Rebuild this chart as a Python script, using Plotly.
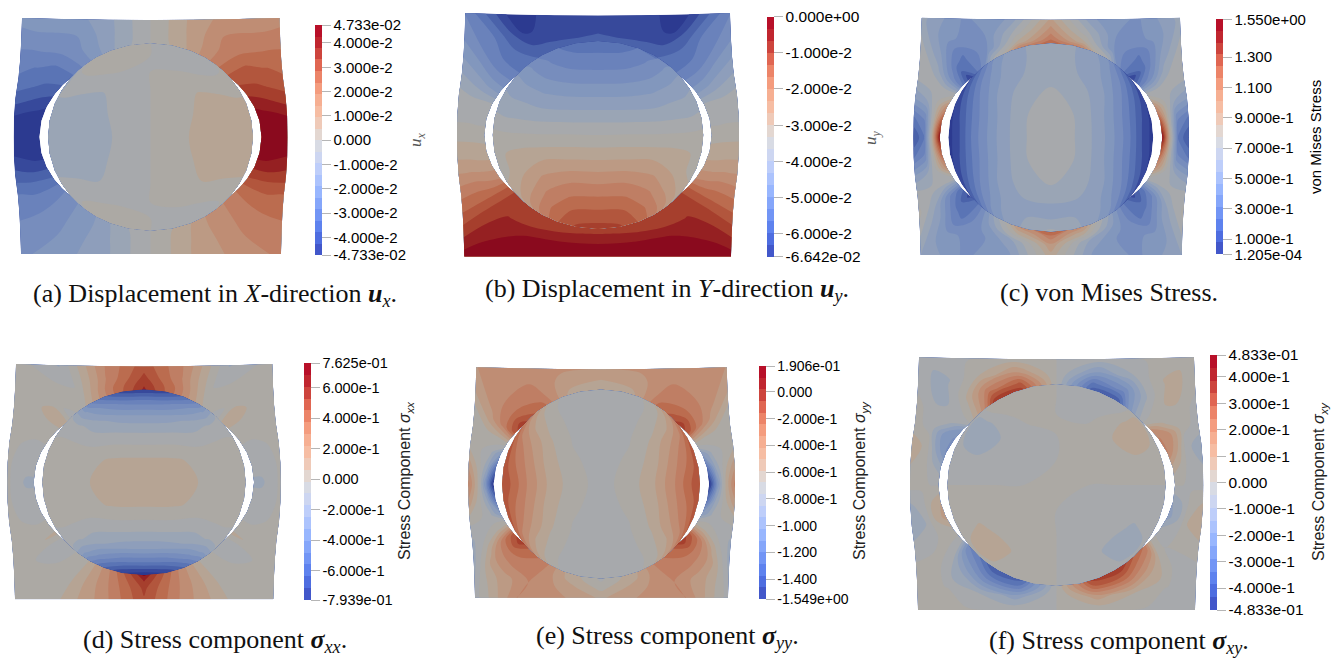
import plotly.graph_objects as go
import numpy as np

FIG_W, FIG_H = 1335, 658
COOLWARM = [(59,76,192),(85,120,234),(123,159,249),(162,189,255),(200,212,248),(221,221,221),
            (245,196,172),(247,168,137),(233,120,93),(196,50,50),(180,4,38)]
# Colours of the twenty shaded bands as they appear on the lit surfaces, lowest band first.
LIT_BANDS = ['#2c3a90','#4056a3','#5069ae','#5f79b8','#6e85bc','#7a90bd','#8498bd','#8f9fbb','#9ba5b4','#a7a9ac',
             '#aca9a4','#b5a595','#bc9c86','#bf9076','#c08269','#bd7254','#b65e42','#ab4832','#9e3226','#8a0a1e']

# Right-half field samples.
# *_PLATE: one row per ray (top centre, clockwise, to bottom centre); columns run inner edge -> outer edge.
# *_INCL: rows top -> bottom over INCL_V, columns centre -> edge over INCL_U.
UX_PLATE = [
 [0,0,0,0],[.7,.9,1.0,1.1],[1.8,1.8,1.9,1.8],[2.6,2.4,2.0,1.7],
 [3.0,2.9,2.5,2.2],[3.3,3.1,2.9,2.6],[3.7,3.5,3.2,2.9],[4.2,4.0,3.8,3.5],[4.7,4.6,4.5,4.3],
 [4.73,4.7,4.65,4.55],[4.6,4.55,4.4,4.25],[3.9,3.9,3.8,3.6],[3.2,3.1,3.0,2.8],[2.5,2.6,2.6,2.5],
 [2.2,2.3,2.3,2.2],[1.9,2.0,2.1,2.0],[1.5,1.6,1.6,1.6],[.6,.8,.9,1.0],[0,0,0,0]]
UX_INCL = [
 [0,-.2,-.2,-.1,.05,.2],[0,-.2,-.2,-.1,.05,.25],[0,.03,.03,.08,.2,.4],[0,.35,.52,.55,.55,.55],
 [0,.4,.55,.62,.62,.58],[0,.42,.6,.65,.65,.6],[0,.4,.55,.6,.6,.58],[0,.3,.5,.52,.55,.55],
 [0,.1,.1,.15,.3,.4],[0,-.15,-.15,-.1,.05,.2],[0,-.2,-.2,-.1,0,.15]]
UY_PLATE = [
 [-5.75,-5.95,-6.05,-6.2],[-5.7,-6.0,-6.2,-6.25],[-5.6,-5.95,-6.35,-6.4],[-5.5,-5.5,-5.2,-5.0],
 [-5.2,-5.2,-5.0,-4.7],[-4.9,-4.85,-4.6,-4.35],[-4.5,-4.35,-4.15,-3.95],[-3.6,-3.6,-3.6,-3.5],[-3.5,-3.5,-3.45,-3.45],
 [-3.1,-3.1,-3.1,-3.1],[-2.9,-2.85,-2.8,-2.75],[-2.5,-2.45,-2.35,-2.3],[-2.0,-1.9,-1.75,-1.75],[-1.3,-1.3,-1.3,-1.3],
 [-.9,-.85,-.8,-.8],[-.8,-.65,-.45,-.15],[-.95,-.75,-.25,-.05],[-.9,-.7,-.3,-.05],[-.85,-.65,-.33,-.1]]
UY_INCL = [
 [-5.6,-5.55,-5.3,-5.1,-4.8,-4.6],[-5.3,-5.25,-5.05,-4.75,-4.45,-4.25],[-5.0,-4.95,-4.75,-4.45,-4.15,-4.0],
 [-4.55,-4.5,-4.35,-4.1,-3.95,-3.8],[-3.95,-3.93,-3.87,-3.75,-3.65,-3.55],[-3.32,-3.3,-3.3,-3.28,-3.25,-3.2],
 [-2.7,-2.7,-2.75,-2.85,-3.0,-3.1],[-2.05,-2.05,-2.25,-2.65,-3.0,-3.1],[-1.55,-1.6,-1.9,-2.4,-2.8,-3.0],
 [-1.15,-1.2,-1.6,-2.1,-2.6,-2.9],[-.85,-.95,-1.35,-1.9,-2.45,-2.8]]
VM_PLATE = [
 [1.3,1.15,1.05,.95],[1.2,.85,.7,.55],[.8,.45,.4,.45],[.35,.3,.5,.65],
 [.08,.32,.55,.72],[.3,.45,.65,.78],[.75,.72,.75,.72],[1.05,.8,.62,.55],[1.3,.8,.4,.3],
 [1.5,.85,.3,.15],[1.25,.8,.4,.3],[1.05,.78,.62,.55],[.7,.7,.72,.75],[.25,.4,.62,.8],
 [.12,.32,.55,.72],[.3,.3,.5,.62],[.65,.5,.42,.45],[1.1,.85,.6,.52],[1.35,1.15,1.0,.9]]
VM_INCL = [
 [.64,.63,.58,.5,.35,.22],[.63,.62,.58,.45,.28,.15],[.64,.62,.55,.42,.24,.1],[.71,.66,.55,.38,.2,.07],
 [.75,.68,.53,.35,.16,.05],[.76,.68,.53,.35,.14,.04],[.75,.68,.53,.35,.16,.05],[.7,.66,.55,.38,.2,.07],
 [.62,.61,.55,.42,.24,.1],[.62,.62,.58,.46,.28,.15],[.72,.66,.58,.5,.35,.22]]
SXX_PLATE = [
 [.65,.6,.55,.5],[.35,.35,.3,.28],[.1,.02,-.04,-.1],[-.08,.03,.02,.03],
 [.12,.1,.03,.03],[.03,.03,.03,.03],[0,0,.02,.03],[-.04,-.05,-.03,.03],[-.08,-.08,-.06,.01],
 [-.1,-.1,-.08,.01],[-.08,-.08,-.06,.01],[-.04,-.05,-.03,.03],[0,0,.02,.03],[.08,.06,.03,.03],
 [-.06,-.06,-.01,.03],[-.04,-.02,.03,.03],[.03,.05,.06,.05],[.33,.3,.28,.25],[.76,.62,.55,.52]]
SXX_INCL = [
 [-.72,-.68,-.55,-.4,-.2,-.05],[-.45,-.42,-.33,-.22,-.08,-.02],[-.22,-.2,-.15,-.07,-.03,-.02],
 [-.07,-.06,-.05,-.01,.01,.02],[.07,.07,.05,.03,.03,.02],[.1,.09,.06,.04,.03,.03],[.07,.07,.05,.03,.03,.02],
 [-.07,-.06,-.05,-.01,.01,.02],[-.22,-.2,-.15,-.07,-.03,-.02],[-.5,-.47,-.36,-.22,-.08,-.02],[-.79,-.72,-.58,-.4,-.2,-.05]]
SYY_PLATE = [
 [-.6,-.55,-.5,-.42],[-.55,-.5,-.45,-.4],[-.2,-.28,-.33,-.37],[-.1,-.3,-.38,-.42],
 [0,-.28,-.38,-.5],[-.1,-.3,-.45,-.62],[-.55,-.6,-.62,-.66],[-.95,-.75,-.68,-.62],[-1.25,-.85,-.65,-.45],
 [-1.53,-1.05,-.62,-.3],[-1.25,-.85,-.65,-.45],[-.95,-.75,-.68,-.65],[-.55,-.62,-.68,-.78],[-.1,-.3,-.55,-.8],
 [0,-.28,-.45,-.78],[-.15,-.3,-.5,-.72],[-.25,-.3,-.33,-.33],[-.55,-.52,-.45,-.4],[-.72,-.68,-.62,-.52]]
SYY_INCL = [
 [-.75,-.74,-.7,-.6,-.45,-.3],[-.75,-.74,-.68,-.58,-.42,-.22],[-.75,-.72,-.64,-.52,-.35,-.15],
 [-.74,-.69,-.58,-.42,-.27,-.1],[-.72,-.66,-.54,-.36,-.22,-.1],[-.71,-.64,-.5,-.33,-.17,-.08],[-.72,-.66,-.54,-.36,-.22,-.1],
 [-.74,-.69,-.58,-.42,-.27,-.1],[-.75,-.72,-.64,-.52,-.35,-.15],[-.75,-.74,-.68,-.58,-.42,-.22],[-.75,-.74,-.7,-.6,-.45,-.3]]
SXY_PLATE = [
 [0,0,0,0],[-.38,-.3,-.15,-.02],[-.42,-.22,-.05,.01],[-.12,-.02,.07,.02],
 [-.02,.03,.07,.01],[.15,.02,.02,-.01],[.2,.15,.02,-.02],[.2,.1,-.04,-.07],[.08,.03,-.03,-.05],
 [0,0,-.01,-.02],[-.1,-.05,.02,.06],[-.12,-.05,.05,.07],[-.03,-.02,.04,.04],[.03,0,-.01,-.01],
 [.25,.05,-.01,-.02],[.3,.1,-.01,-.02],[.43,.25,.05,-.01],[.38,.28,.12,.01],[0,0,0,0]]
SXY_INCL = [
 [0,-.02,-.02,-.02,-.02,.01],[0,-.02,-.02,-.01,.05,.03],[0,-.01,.01,.07,.07,.03],[0,.015,.05,.075,.05,.03],
 [0,.02,.025,.03,.02,.02],[0,0,0,0,0,0],[0,-.015,-.02,-.025,-.015,-.01],[0,-.015,-.04,-.055,-.03,-.01],
 [0,-.02,-.06,-.07,-.05,-.02],[0,-.02,-.03,-.055,-.05,-.03],[0,-.02,-.02,-.02,0,0]]

RAY_TOP = [0,.33,.67]
RAY_SIDE = [.8,.65,.5,.33,.17,0,-.17,-.33,-.5,-.65,-.8]
RAY_BOT = [.67,.33,0]
SIDE_BULGE = {.8:.1,.65:.22,.5:.42,.33:.78,.17:.96,0:1}
TOP_SAG = {0:1,.33:.85,.67:.5}
RAD = [0,.3,.6,1]
INCL_U = [0,.3,.55,.75,.9,1]
INCL_V = [1,.87,.7,.5,.25,0,-.25,-.5,-.7,-.87,-1]

def bar_scale(n):
    c=np.array(COOLWARM,float)
    out=[]
    for k in range(n):
        t=(k+.5)/n*10; i=min(int(t),9); m=c[i]*(1-(t-i))+c[i+1]*(t-i)
        col=f"rgb({m[0]:.0f},{m[1]:.0f},{m[2]:.0f})"
        out+= [[k/n,col],[(k+1)/n,col]]
    return out
def lit_scale():
    n=len(LIT_BANDS)
    return [[0,LIT_BANDS[0]]]+[[(k+.5)/n,c] for k,c in enumerate(LIT_BANDS)]+[[1,LIT_BANDS[-1]]]

fig=go.Figure()
def note(x,y,text,h=44,**font):
    angle=font.pop('angle',0)
    fig.add_annotation(x=x/FIG_W,y=1-y/FIG_H,xref='paper',yref='paper',xanchor='center',yanchor='middle',showarrow=False,
                       text=text,textangle=angle,height=h,font=font)

def panel(i,P):
    ax=dict(visible=False,fixedrange=True)
    cx,cy=P['c']
    Wx,Hy=min(cx,150),130
    fig.layout[f'xaxis{i}']=dict(ax,domain=[(cx-Wx)/FIG_W,(cx+Wx)/FIG_W],range=[-Wx,Wx],anchor=f'y{i}')
    fig.layout[f'yaxis{i}']=dict(ax,domain=[1-(cy+Hy)/FIG_H,1-(cy-Hy)/FIG_H],range=[-Hy,Hy],anchor=f'x{i}')
    xa,ya=f'x{i}',f'y{i}'
    def outer(side,kind,f):
        top,bot=cy-P['top'],P['bot']-cy
        xt,xb,xm=[abs(v-cx) for v in P['R' if side>0 else 'L']]
        if kind=='t':
            return side*f*xt,top-(P['sag'])*TOP_SAG[f]
        if kind=='b':
            return side*f*xb,-bot
        if kind=='c+': return side*xt,top
        if kind=='c-': return side*xb,-bot
        xc=xt if f>=0 else xb
        return side*(xc+(xm-xc)*SIDE_BULGE[abs(f)]),f*(top if f>=0 else bot)
    seq=[('t',f) for f in RAY_TOP]+[('c+',1)]+[('s',f) for f in RAY_SIDE]+[('c-',1)]+[('b',f) for f in RAY_BOT]
    a,b=P['ab']
    def ray(side,item):
        ox,oy=outer(side,*item)
        n=np.hypot(ox,oy); dx,dy=ox/n,oy/n
        hx=P['hR'] if side>0 else P['hL']
        re=1/np.sqrt((dx/a)**2+(dy/b)**2)
        rh=1/np.sqrt((dx/hx)**2+(dy/P['hy'])**2)
        ri=max(rh,.96*re)
        return [(dx*ri+t*(ox-dx*ri),dy*ri+t*(oy-dy*ri)) for t in RAD]
    rows=[ray(1,s) for s in seq]+[ray(-1,s) for s in seq[::-1][1:]]
    X=np.array([[p[0] for p in r] for r in rows]).T
    Y=np.array([[p[1] for p in r] for r in rows]).T
    zr=np.array(P['plate'],float); sg=P['sign']
    Z=np.vstack([zr,sg*zr[::-1][1:]]).T
    aa=list(range(X.shape[1])); bb=list(range(X.shape[0]))
    hide=dict(showgrid=False,showline=False,showticklabels='none',startline=False,endline=False,minorgridcount=0,tickmode='array',tickvals=[],smoothing=0)
    lo,hi=P['range']; size=(hi-lo)/20
    cont=dict(start=lo+size,end=hi-size,size=size,coloring='fill',showlines=False)
    fig.add_trace(go.Carpet(a=aa,b=bb,x=X.tolist(),y=Y.tolist(),carpet=f'p{i}',xaxis=xa,yaxis=ya,aaxis=hide,baxis=hide))
    fig.add_trace(go.Contourcarpet(a=aa,b=bb,z=Z.tolist(),carpet=f'p{i}',contours=cont,autocontour=False,colorscale=lit_scale(),zmin=lo,zmax=hi,showscale=False,line=dict(width=0),xaxis=xa,yaxis=ya))
    ur=np.array(INCL_U); vv=np.array(INCL_V)
    us=np.concatenate([-ur[::-1][:-1],ur])
    U,V=np.meshgrid(us,vv)
    IX=a*U*np.sqrt(1-V**2/2); IY=b*V*np.sqrt(1-U**2/2)
    zi=np.array(P['incl'],float)
    ZI=np.hstack([sg*zi[:,:0:-1],zi])
    aa=list(range(IX.shape[1])); bb=list(range(IX.shape[0]))
    fig.add_trace(go.Carpet(a=aa,b=bb,x=IX.tolist(),y=IY.tolist(),carpet=f'i{i}',xaxis=xa,yaxis=ya,aaxis=hide,baxis=hide))
    fig.add_trace(go.Contourcarpet(a=aa,b=bb,z=ZI.tolist(),carpet=f'i{i}',contours=cont,autocontour=False,colorscale=lit_scale(),zmin=lo,zmax=hi,showscale=False,line=dict(width=0),xaxis=xa,yaxis=ya))
    bx,bt,bbm=P['bar']
    fig.add_trace(go.Scatter(x=[0,0],y=[0,0],xaxis=xa,yaxis=ya,mode='markers',showlegend=False,hoverinfo='skip',
        marker=dict(size=1,opacity=0,color=[lo,hi],cmin=lo,cmax=hi,colorscale=bar_scale(20),showscale=True,
          colorbar=dict(x=bx/FIG_W,xanchor='left',xpad=0,ypad=0,y=1-(bt+bbm)/2/FIG_H,yanchor='middle',len=(bbm-bt)/FIG_H,lenmode='fraction',
            thickness=7,thicknessmode='pixels',outlinewidth=0,ticks='outside',ticklen=9,tickcolor='#b5b5b5',tickwidth=1,
            tickmode='array',tickvals=P['tv'],ticktext=P['tt'],tickfont=dict(family='Liberation Sans',size=P['fs'],color='#000')))))

panel(1,dict(c=(150.5,137),ab=(102.5,93.7),hR=111,hL=111,hy=85,top=18,bot=254,sag=2,fs=15,
  R=(279.5,281,287.5),L=(22,21,13.5),plate=UX_PLATE,incl=UX_INCL,sign=-1,range=(-4.733,4.733),bar=(315,25.3,255),
  tv=[4.733,4,3,2,1,0,-1,-2,-3,-4,-4.733],
  tt=['4.733e-02','4.000e-2','3.000e-2','2.000e-2','1.000e-2','0.000','-1.000e-2','-2.000e-2','-3.000e-2','-4.000e-2','-4.733e-02']))
panel(2,dict(c=(598,135),ab=(105.3,94),hR=113.7,hL=113.7,hy=85,top=13,bot=256.5,sag=2.5,fs=15.5,
  R=(730,731,739),L=(465.3,464.3,457),plate=UY_PLATE,incl=UY_INCL,sign=1,range=(-6.642,0),bar=(766.7,16.7,256.7),
  tv=[0,-1,-2,-3,-4,-5,-6,-6.642],
  tt=['0.000e+00','-1.000e-2','-2.000e-2','-3.000e-2','-4.000e-2','-5.000e-2','-6.000e-2','-6.642e-02']))
panel(3,dict(c=(1050.8,137.5),ab=(102.5,94.2),hR=111.5,hL=111.1,hy=85,top=17.7,bot=255,sag=2,fs=15,
  R=(1180,1181.7,1189),L=(921.7,920.7,913.3),plate=VM_PLATE,incl=VM_INCL,sign=1,range=(.0001205,1.55),bar=(1216.3,19.3,254.3),
  tv=[1.55,1.3,1.1,.9,.7,.5,.3,.1,.0001205],
  tt=['1.550e+00','1.300','1.100','9.000e-1','7.000e-1','5.000e-1','3.000e-1','1.000e-1','1.205e-04']))
panel(4,dict(c=(144,482.3),ab=(101.7,93),hR=110,hL=110.3,hy=84,top=364,bot=599.3,sag=2.5,fs=14.5,
  R=(272.3,273.3,280.7),L=(16,15,7.3),plate=SXX_PLATE,incl=SXX_INCL,sign=1,range=(-.7939,.7625),bar=(304.3,363.3,600),
  tv=[.7625,.6,.4,.2,0,-.2,-.4,-.6,-.7939],
  tt=['7.625e-01','6.000e-1','4.000e-1','2.000e-1','0.000','-2.000e-1','-4.000e-1','-6.000e-1','-7.939e-01']))
panel(5,dict(c=(601,484),ab=(99,94.5),hR=108,hL=107.3,hy=85,top=367.3,bot=597.7,sag=2,fs=14,
  R=(726.7,728,735),L=(476.3,475,468.3),plate=SYY_PLATE,incl=SYY_INCL,sign=1,range=(-1.549,.1906),bar=(759,366.3,599.3),
  tv=[.1906,0,-.2,-.4,-.6,-.8,-1,-1.2,-1.4,-1.549],
  tt=['1.906e-01','0.000','-2.000e-1','-4.000e-1','-6.000e-1','-8.000e-1','-1.000','-1.200','-1.400','-1.549e+00']))
panel(6,dict(c=(1056.5,485),ab=(109.2,100.7),hR=118.5,hL=118.2,hy=91,top=357.3,bot=610,sag=2,fs=15.5,
  R=(1194,1195,1203.3),L=(919,918,910),plate=SXY_PLATE,incl=SXY_INCL,sign=-1,range=(-.4833,.4833),bar=(1210,355,610),
  tv=[.4833,.4,.3,.2,.1,0,-.1,-.2,-.3,-.4,-.4833],
  tt=['4.833e-01','4.000e-1','3.000e-1','2.000e-1','1.000e-1','0.000','-1.000e-1','-2.000e-1','-3.000e-1','-4.000e-1','-4.833e-01']))

fig.update_layout(width=FIG_W,height=FIG_H,margin=dict(l=0,r=0,t=0,b=0),paper_bgcolor='white',plot_bgcolor='rgba(0,0,0,0)',showlegend=False)
cap=dict(family='Liberation Serif',size=26,color='#111')
note(215,295,'(a) Displacement in <i>X</i>-direction <b><i>u</i></b><sub><i>x</i></sub>.',**cap)
note(667,290,'(b) Displacement in <i>Y</i>-direction <b><i>u</i></b><sub><i>y</i></sub>.',**cap)
note(1109,292,'(c) von Mises Stress.',**cap)
note(215,641,h=32,text='(d) Stress component <b><i>σ</i></b><sub><i>xx</i></sub>.',**cap)
note(667,637,h=36,text='(e) Stress component <b><i>σ</i></b><sub><i>yy</i></sub>.',**cap)
note(1119,642,h=32,text='(f) Stress component <b><i>σ</i></b><sub><i>xy</i></sub>.',**cap)
small=dict(family='Liberation Serif',size=17,color='#555',angle=-90)
note(417,140,'<i>u<sub>x</sub></i>',**small)
note(872,137,'<i>u<sub>y</sub></i>',**small)
note(1315,137,'von Mises Stress',family='Liberation Sans',size=15,color='#000',angle=-90)
tit=dict(family='Liberation Sans',size=16,color='#222',angle=-90)
note(406,481,'Stress Component <i>σ<sub>xx</sub></i>',**tit)
note(861,481,'Stress Component <i>σ<sub>yy</sub></i>',**tit)
note(1320,482,'Stress Component <i>σ<sub>xy</sub></i>',**tit)
fig.write_html('out.html',config=dict(displayModeBar=False),post_script="document.body.style.margin='0';")
